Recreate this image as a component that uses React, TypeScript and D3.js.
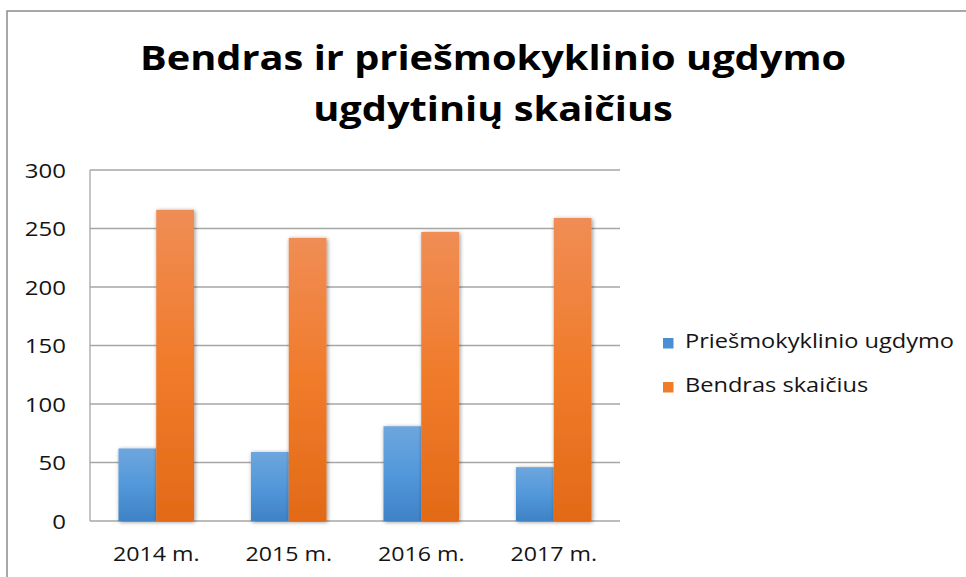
import React from "react";
import * as d3 from "d3";

const categories = ["2014 m.", "2015 m.", "2016 m.", "2017 m."];
const seriesNames = ["Priešmokyklinio ugdymo", "Bendras skaičius"];
const preschool = [62, 59, 81, 46];
const total = [266, 242, 247, 259];
const yTicks = [0, 50, 100, 150, 200, 250, 300];
const titleLines = ["Bendras ir priešmokyklinio ugdymo", "ugdytinių skaičius"];

const W = 966;
const H = 577;
const plot = { left: 90, right: 620, top: 170, bottom: 521 };
const FONT = "'Open Sans', sans-serif";
const SX_TICK = 1.2;
const SX_CAT = 1.16;
const SX_LEG = 1.18;
const SX_TITLE = 1.17;

function SText(props: {
  x: number;
  y: number;
  sx: number;
  anchor?: string;
  size: number;
  bold?: boolean;
  children: React.ReactNode;
}) {
  return (
    <text
      transform={`translate(${props.x},${props.y}) scale(${props.sx},1)`}
      textAnchor={props.anchor || "start"}
      fontSize={props.size}
      fontWeight={props.bold ? "bold" : "normal"}
      fill={props.bold ? "#000" : "#141414"}
    >
      {props.children}
    </text>
  );
}

export default function App() {
  const x0 = d3
    .scaleBand<string>()
    .domain(categories)
    .range([plot.left, plot.right])
    .paddingInner(0.43)
    .paddingOuter(0.215);
  const x1 = d3
    .scaleBand<number>()
    .domain([0, 1])
    .range([0, x0.bandwidth()]);
  const y = d3.scaleLinear().domain([0, 300]).range([plot.bottom, plot.top]);
  const series = [preschool, total];
  const fills = ["url(#gBlue)", "url(#gOrange)"];
  const legendFills = ["#4A8FD4", "#F07C2A"];

  return (
    <svg
      width={W}
      height={H}
      style={{ position: "absolute", left: 0, top: 0, background: "#fff" }}
      fontFamily={FONT}
    >
      <defs>
        <linearGradient id="gBlue" x1="0" y1="0" x2="0" y2="1">
          <stop offset="0" stopColor="#6EA6DD" />
          <stop offset="0.5" stopColor="#5298DA" />
          <stop offset="1" stopColor="#3F82C6" />
        </linearGradient>
        <linearGradient id="gOrange" x1="0" y1="0" x2="0" y2="1">
          <stop offset="0" stopColor="#F08D55" />
          <stop offset="0.5" stopColor="#F07B2A" />
          <stop offset="1" stopColor="#E26A17" />
        </linearGradient>
        <filter id="shadow" x="-30%" y="-10%" width="160%" height="120%">
          <feGaussianBlur in="SourceAlpha" stdDeviation="2.2" />
          <feOffset dx="1" dy="1" result="b" />
          <feComponentTransfer>
            <feFuncA type="linear" slope="0.45" />
          </feComponentTransfer>
          <feMerge>
            <feMergeNode />
            <feMergeNode in="SourceGraphic" />
          </feMerge>
        </filter>
      </defs>
      <rect x={7} y={11} width={W + 20} height={H + 20} fill="#fff" stroke="#8c8c8c" strokeWidth={1.5} />

      {titleLines.map((t, i) => (
        <SText key={i} x={493} y={70 + i * 51} sx={SX_TITLE} anchor="middle" size={34} bold>
          {t}
        </SText>
      ))}

      {yTicks.map((v) => (
        <g key={v}>
          <line x1={plot.left} x2={plot.right} y1={y(v)} y2={y(v)} stroke="#a6a6a6" strokeWidth={1.3} />
          <SText x={66} y={y(v) + 7.5} sx={SX_TICK} anchor="end" size={20}>
            {v}
          </SText>
        </g>
      ))}
      <line x1={plot.left} x2={plot.left} y1={plot.top} y2={plot.bottom} stroke="#a6a6a6" strokeWidth={1.3} />

      {categories.map((c, ci) => (
        <g key={c}>
          {series.map((s, si) => (
            <rect
              key={si}
              x={(x0(c) as number) + (x1(si) as number)}
              y={y(s[ci])}
              width={x1.bandwidth()}
              height={y(0) - y(s[ci])}
              fill={fills[si]}
              filter="url(#shadow)"
            />
          ))}
          <SText x={(x0(c) as number) + x0.bandwidth() / 2} y={561} sx={SX_CAT} anchor="middle" size={20}>
            {c}
          </SText>
        </g>
      ))}

      {seriesNames.map((n, i) => (
        <g key={n}>
          <rect x={663} y={338 + i * 44} width={10.5} height={10.5} fill={legendFills[i]} />
          <SText x={685} y={348 + i * 44} sx={SX_LEG} size={20}>
            {n}
          </SText>
        </g>
      ))}
    </svg>
  );
}
